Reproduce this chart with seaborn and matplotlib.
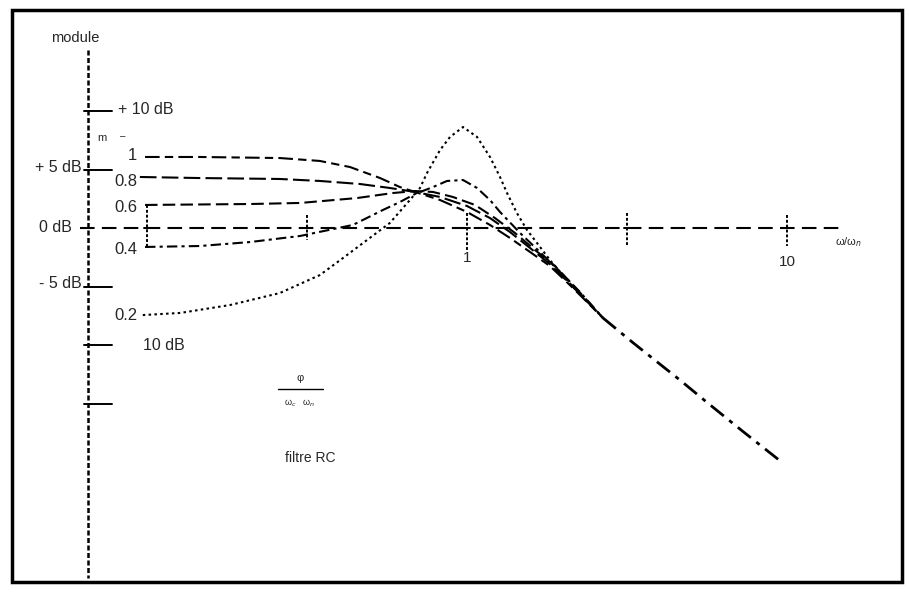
import numpy as np
import pandas as pd
import matplotlib
matplotlib.use("Agg")
import matplotlib.pyplot as plt
from matplotlib.patches import Rectangle
import seaborn as sns

# ---------------- data ----------------
# abscissa: omega / omega_n (log scale), ordinate: module in dB
w_m1 = [0.0986, 0.146, 0.260, 0.347, 0.431, 0.535, 0.617, 0.688, 0.824, 1.0,
        1.180, 1.362, 1.574, 1.816, 2.144, 2.661]
db_m1 = [6.07, 6.07, 5.98, 5.73, 5.21, 4.27, 3.50, 3.08, 2.39, 1.37,
         0.26, -0.85, -2.05, -3.25, -5.13, -7.69]

w_m08 = [0.095, 0.146, 0.260, 0.347, 0.463, 0.574, 0.688, 0.824, 1.0,
         1.180, 1.362, 1.574, 1.816, 2.144, 2.661]
db_m08 = [4.36, 4.27, 4.19, 4.02, 3.76, 3.42, 3.08, 2.65, 1.88,
          0.85, -0.34, -1.71, -3.08, -5.04, -7.69]

w_m06 = [0.0986, 0.210, 0.301, 0.453, 0.587, 0.688, 0.783, 0.904, 1.059,
         1.223, 1.413, 1.631, 1.884, 2.144, 2.661]
db_m06 = [1.97, 2.05, 2.14, 2.56, 2.99, 3.16, 3.08, 2.65, 1.97,
          0.85, -0.43, -1.88, -3.25, -4.87, -7.69]

w_m04 = [0.0986, 0.146, 0.210, 0.301, 0.440, 0.546, 0.617, 0.688, 0.783,
         0.866, 0.972, 1.075, 1.180, 1.268, 1.465, 1.690, 1.953, 2.254, 2.661]
db_m04 = [-1.62, -1.54, -1.20, -0.68, 0.26, 1.54, 2.22, 2.91, 3.50,
          4.02, 4.10, 3.42, 2.39, 1.37, -0.43, -2.05, -3.76, -5.47, -7.69]

w_m02 = [0.097, 0.127, 0.182, 0.260, 0.347, 0.410, 0.487, 0.574, 0.663,
         0.713, 0.750, 0.824, 0.885, 0.972, 1.075, 1.180, 1.268, 1.334,
         1.432, 1.540, 1.655, 1.816, 2.144, 2.661]
db_m02 = [-7.44, -7.26, -6.58, -5.56, -4.02, -2.56, -1.03, 0.43, 2.39,
          3.42, 4.70, 6.67, 7.78, 8.63, 7.78, 6.07, 4.36, 2.99,
          1.28, -0.17, -1.28, -2.74, -5.04, -7.69]

# common high-frequency asymptote shared by every curve
w_tail = [2.661, 3.30, 4.63, 5.62, 7.29, 9.72]
db_tail = [-7.69, -9.8, -13.0, -14.9, -17.4, -20.1]

m_labels = ["1", "0.8", "0.6", "0.4", "0.2"]
y_tick_db = [10, 5, -5, -10, -15]
x_tick_w = [0.1, 0.316, 1.0, 3.16, 10.0]
x_tick_labels = ["", "", "1", "", "10"]

# ---------------- build table ----------------
series = {"1": (w_m1, db_m1), "0.8": (w_m08, db_m08), "0.6": (w_m06, db_m06),
          "0.4": (w_m04, db_m04), "0.2": (w_m02, db_m02)}
rows = []
for m in m_labels:
    ws, ds = series[m]
    for w, d in zip(ws, ds):
        rows.append({"m": m, "w": w, "db": d})
df = pd.DataFrame(rows)
df_tail = pd.DataFrame({"w": w_tail, "db": db_tail})

# ---------------- figure ----------------
sns.set_style("white")
plt.rcParams["font.family"] = ["Liberation Sans", "DejaVu Sans"]

fig = plt.figure(figsize=(9.1, 5.92), dpi=100)
ax = fig.add_axes([0, 0, 1, 1])
ax.set_xscale("log")

# pixel helpers (decoration placement only)
def X(px):
    return 10 ** ((px - 467) / 320.0)

def Y(py):
    return (228 - py) / 11.7

dash_map = {"1": (7, 2.5, 4, 2.5), "0.8": (8, 2.5), "0.6": (6, 2.5),
            "0.4": (5, 2, 1.5, 2), "0.2": (1.2, 1.6)}
palette = {m: "black" for m in m_labels}
sns.lineplot(data=df, x="w", y="db", hue="m", style="m", dashes=dash_map,
             palette=palette, estimator=None, sort=False, legend=False,
             linewidth=1.5, ax=ax)
sns.lineplot(data=df_tail, x="w", y="db", color="black", estimator=None,
             sort=False, linewidth=2.0, linestyle=(0, (6, 2.5, 1.5, 2.5)),
             ax=ax)

ax.set_xlim(X(0), X(910))
ax.set_ylim(Y(592), Y(0))
ax.axis("off")

k = dict(color="black", clip_on=False)
# vertical (module) axis, dotted
ax.plot([X(88), X(88)], [Y(50), Y(578)], lw=1.8, ls=(0, (2, 1)), **k)
# 0 dB reference line, dashed
ax.plot([X(80), X(842)], [0, 0], lw=1.5, ls=(0, (7, 3.5)), **k)
# y ticks
for d in y_tick_db:
    ax.plot([X(84), X(112)], [d, d], lw=1.4, **k)
# x ticks
tick_spans = {0.1: (205, 248), 0.316: (215, 240), 1.0: (213, 250),
              3.16: (213, 245), 10.0: (215, 246)}
for w in x_tick_w:
    y0, y1 = tick_spans[w]
    ax.plot([w, w], [Y(y0), Y(y1)], lw=1.4, ls=(0, (1.5, 1)), **k)
    ax.plot([w / 1.02, w * 1.02], [0, 0], lw=1.4, **k)
for w, lab in zip(x_tick_w, x_tick_labels):
    if lab:
        ax.text(w, Y(258) if lab == "1" else Y(262), lab, ha="center",
                va="center", fontsize=11)
ax.text(X(848), Y(242), "ω/ω$_n$", ha="center", va="center", fontsize=8)

# y axis labels
ax.text(X(75), Y(38), "module", ha="center", va="center", fontsize=10.5)
ax.text(X(118), Y(110), "+ 10 dB", ha="left", va="center", fontsize=11.5)
ax.text(X(82), Y(168), "+ 5 dB", ha="right", va="center", fontsize=11.5)
ax.text(X(72), Y(227), "0 dB", ha="right", va="center", fontsize=11.5)
ax.text(X(82), Y(284), "- 5 dB", ha="right", va="center", fontsize=11.5)
ax.text(X(143), Y(345), "10 dB", ha="left", va="center", fontsize=11.5)
ax.text(X(97), Y(138), "m", ha="left", va="center", fontsize=8)
ax.text(X(120), Y(136), "–", ha="left", va="center", fontsize=7)

# curve labels
label_pos = {"1": 155, "0.8": 181, "0.6": 208, "0.4": 250, "0.2": 315}
for m in m_labels:
    ax.text(X(137), Y(label_pos[m]), m, ha="right", va="center", fontsize=12)

# phase fraction and caption
ax.text(X(300), Y(378), "φ", ha="center", va="center", fontsize=8)
ax.plot([X(278), X(323)], [Y(389), Y(389)], lw=1.0, **k)
ax.text(X(300), Y(403), "ω$_c$   ω$_n$", ha="center", va="center", fontsize=6.5)
ax.text(X(310), Y(458), "filtre RC", ha="center", va="center", fontsize=10)

# outer frame
fig.patches.append(Rectangle((12 / 910, 1 - 582 / 592), 890 / 910, 572 / 592,
                             transform=fig.transFigure, fill=False,
                             edgecolor="black", lw=2.5))

fig.savefig("out.png", dpi=100, facecolor="white")
